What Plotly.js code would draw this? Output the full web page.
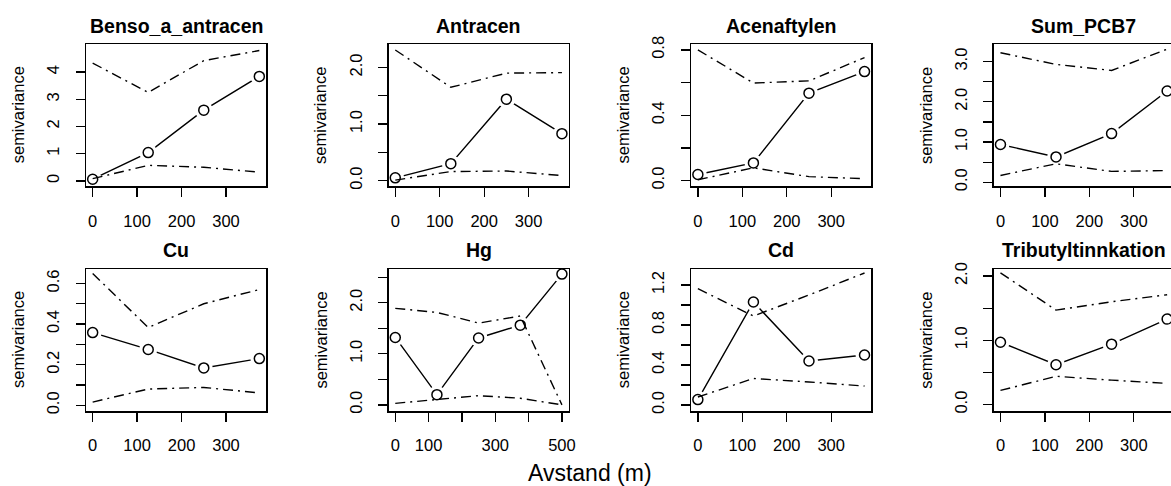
<!DOCTYPE html>
<html>
<head>
<meta charset="utf-8">
<script src="https://cdn.plot.ly/plotly-3.0.1.min.js"></script>
<style>
  html, body { margin: 0; padding: 0; background: #fff; overflow: hidden; }
  #chart { width: 1210px; height: 486px; }
</style>
</head>
<body>
<div id="chart"></div>
<script>
// ---------- DATA ----------
const panelNames = ["Benso_a_antracen", "Antracen", "Acenaftylen", "Sum_PCB7", "Cu", "Hg", "Cd", "Tributyltinnkation"];

const lags4 = [0, 125, 250, 375];
const lags5 = [0, 125, 250, 375, 500];

const bensoGamma = [0.06, 1.04, 2.60, 3.84];
const bensoUpper = [4.33, 3.25, 4.42, 4.79];
const bensoLower = [0.08, 0.57, 0.50, 0.32];

const antracenGamma = [0.05, 0.30, 1.44, 0.83];
const antracenUpper = [2.31, 1.65, 1.90, 1.91];
const antracenLower = [0.01, 0.16, 0.17, 0.09];

const acenaftylenGamma = [0.037, 0.108, 0.535, 0.667];
const acenaftylenUpper = [0.800, 0.597, 0.610, 0.753];
const acenaftylenLower = [0.005, 0.078, 0.024, 0.012];

const pcb7Gamma = [0.94, 0.63, 1.21, 2.27];
const pcb7Upper = [3.22, 2.93, 2.78, 3.31];
const pcb7Lower = [0.17, 0.46, 0.27, 0.29];

const cuGamma = [0.358, 0.275, 0.184, 0.230];
const cuUpper = [0.649, 0.383, 0.500, 0.570];
const cuLower = [0.016, 0.080, 0.088, 0.061];

const hgGamma = [1.32, 0.20, 1.31, 1.56, 2.56];
const hgUpper = [1.89, 1.81, 1.60, 1.74, 0.00];
const hgLower = [0.03, 0.10, 0.18, 0.13, 0.00];

const cdGamma = [0.054, 1.03, 0.44, 0.50];
const cdUpper = [1.163, 0.89, 1.10, 1.32];
const cdLower = [0.08, 0.265, 0.23, 0.19];

const tbtGamma = [0.97, 0.62, 0.94, 1.33];
const tbtUpper = [2.05, 1.47, 1.60, 1.71];
const tbtLower = [0.22, 0.44, 0.38, 0.33];

// axis ranges
const xRange4 = [-15, 390];
const xRange5 = [-20, 520];
const yRanges = [[-0.20, 5.02], [-0.10, 2.41], [-0.035, 0.834], [-0.10, 3.43],
                 [-0.028, 0.671], [-0.12, 2.66], [-0.06, 1.36], [-0.10, 2.11]];

// tick values / labels
const xTicks4 = [0, 100, 200, 300];
const xTickText4 = ["0", "100", "200", "300"];
const xTicks5 = [0, 100, 200, 300, 400, 500];
const xTickText5 = ["0", "100", "", "300", "", "500"];

const yTickVals = [
  [0, 1, 2, 3, 4],
  [0, 0.5, 1, 1.5, 2],
  [0, 0.2, 0.4, 0.6, 0.8],
  [0, 0.5, 1, 1.5, 2, 2.5, 3],
  [0, 0.1, 0.2, 0.3, 0.4, 0.5, 0.6],
  [0, 0.5, 1, 1.5, 2, 2.5],
  [0, 0.2, 0.4, 0.6, 0.8, 1.0, 1.2],
  [0, 0.5, 1, 1.5, 2]
];
const yTickText = [
  ["0", "1", "2", "3", "4"],
  ["0.0", "", "1.0", "", "2.0"],
  ["0.0", "", "0.4", "", "0.8"],
  ["0.0", "", "1.0", "", "2.0", "", "3.0"],
  ["0.0", "", "0.2", "", "0.4", "", "0.6"],
  ["0.0", "", "1.0", "", "2.0", ""],
  ["0.0", "", "0.4", "", "0.8", "", "1.2"],
  ["0.0", "", "1.0", "", "2.0"]
];

const yTitle = "semivariance";
const xTitle = "Avstand (m)";

// ---------- BUILD ----------
const panels = [
  {x: lags4, g: bensoGamma, u: bensoUpper, l: bensoLower},
  {x: lags4, g: antracenGamma, u: antracenUpper, l: antracenLower},
  {x: lags4, g: acenaftylenGamma, u: acenaftylenUpper, l: acenaftylenLower},
  {x: lags4, g: pcb7Gamma, u: pcb7Upper, l: pcb7Lower},
  {x: lags4, g: cuGamma, u: cuUpper, l: cuLower},
  {x: lags5, g: hgGamma, u: hgUpper, l: hgLower},
  {x: lags4, g: cdGamma, u: cdUpper, l: cdLower},
  {x: lags4, g: tbtGamma, u: tbtUpper, l: tbtLower}
];

const W = 1210, H = 486;
const colPeriod = 302.6, boxLeft0 = 86, boxW = 180;
const rowTops = [44.3, 269], boxH = 142;
const FONT = "Liberation Sans, Arial, Helvetica, sans-serif";

const traces = [];
const layout = {
  width: W, height: H,
  margin: {l: 0, r: 0, t: 0, b: 0, pad: 0},
  paper_bgcolor: "#fff", plot_bgcolor: "#fff",
  showlegend: false,
  font: {family: FONT, color: "#000", size: 16},
  annotations: []
};

const dashDot = "10px,5px,2px,5px";

panels.forEach((p, i) => {
  const r = Math.floor(i / 4), c = i % 4;
  const n = i + 1;
  const xa = "x" + (n === 1 ? "" : n), ya = "y" + (n === 1 ? "" : n);
  const left = boxLeft0 + colPeriod * c, right = left + boxW;
  const top = rowTops[r], bottom = top + boxH;

  // solid line
  traces.push({x: p.x, y: p.g, xaxis: xa, yaxis: ya, mode: "lines", type: "scatter",
    line: {color: "#000", width: 1.4}, hoverinfo: "skip"});
  // white halo to make gaps (type = "b")
  traces.push({x: p.x, y: p.g, xaxis: xa, yaxis: ya, mode: "markers", type: "scatter",
    marker: {symbol: "circle", size: 18, color: "#fff", line: {width: 0}}, hoverinfo: "skip"});
  // open circles
  traces.push({x: p.x, y: p.g, xaxis: xa, yaxis: ya, mode: "markers", type: "scatter",
    marker: {symbol: "circle", size: 10, color: "rgba(255,255,255,0)", line: {color: "#000", width: 1.5}}});
  // envelopes
  traces.push({x: p.x, y: p.u, xaxis: xa, yaxis: ya, mode: "lines", type: "scatter",
    line: {color: "#000", width: 1.4, dash: dashDot}, hoverinfo: "skip"});
  traces.push({x: p.x, y: p.l, xaxis: xa, yaxis: ya, mode: "lines", type: "scatter",
    line: {color: "#000", width: 1.4, dash: dashDot}, hoverinfo: "skip"});

  const isHg = p.x.length === 5;
  layout["xaxis" + (n === 1 ? "" : n)] = {
    domain: [left / W, right / W], anchor: ya,
    range: isHg ? xRange5 : xRange4,
    tickmode: "array",
    tickvals: isHg ? xTicks5 : xTicks4,
    ticktext: isHg ? xTickText5 : xTickText4,
    ticks: "outside", ticklen: 9, tickwidth: 1.3, tickcolor: "#000",
    ticklabelstandoff: 10,
    showline: true, mirror: true, linecolor: "#000", linewidth: 1.5,
    showgrid: false, zeroline: false, fixedrange: true,
    tickfont: {family: FONT, size: 16.5, color: "#000"}
  };
  layout["yaxis" + (n === 1 ? "" : n)] = {
    domain: [1 - bottom / H, 1 - top / H], anchor: xa,
    range: yRanges[i],
    tickmode: "array",
    tickvals: yTickVals[i], ticktext: yTickText[i],
    tickangle: -90,
    ticks: "outside", ticklen: 9, tickwidth: 1.3, tickcolor: "#000",
    ticklabelstandoff: 10,
    showline: true, mirror: true, linecolor: "#000", linewidth: 1.5,
    showgrid: false, zeroline: false, fixedrange: true,
    tickfont: {family: FONT, size: 16.5, color: "#000"}
  };

  // panel title
  layout.annotations.push({
    text: "<b>" + panelNames[i] + "</b>", xref: "paper", yref: "paper",
    x: (left + right) / 2 / W, y: 1 - (r === 0 ? 26 : 250) / H,
    xanchor: "center", yanchor: "middle", showarrow: false,
    font: {family: FONT, size: 19.5, color: "#000"}
  });
  // y title
  layout.annotations.push({
    text: yTitle, xref: "paper", yref: "paper",
    x: (left - 68) / W, y: 1 - (top + bottom) / 2 / H,
    xanchor: "center", yanchor: "middle", textangle: -90, showarrow: false,
    font: {family: FONT, size: 16.5, color: "#000"}
  });
});

layout.annotations.push({
  text: xTitle, xref: "paper", yref: "paper",
  x: 590 / W, y: 1 - 473 / H, xanchor: "center", yanchor: "middle", showarrow: false,
  font: {family: FONT, size: 23, color: "#000"}
});

Plotly.newPlot("chart", traces, layout, {staticPlot: true, displayModeBar: false});
</script>
</body>
</html>
